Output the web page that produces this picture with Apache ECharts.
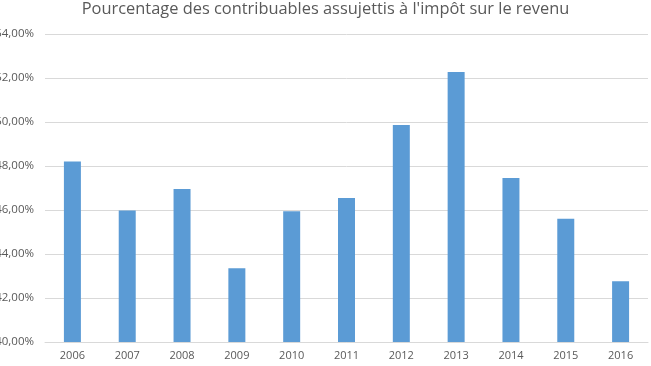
<!DOCTYPE html>
<html><head><meta charset="utf-8">
<script src="https://cdn.jsdelivr.net/npm/echarts@6/dist/echarts.min.js"></script>
<style>html,body{margin:0;padding:0;background:#fff}#c{width:651px;height:366px}</style>
</head><body><div id="c"></div>
<script>
var titleText = "Pourcentage des contribuables assujettis à l'impôt sur le revenu";
var years = ["2006","2007","2008","2009","2010","2011","2012","2013","2014","2015","2016"];
var values = [48.2, 45.98, 46.95, 43.35, 45.94, 46.55, 49.86, 52.27, 47.45, 45.6, 42.76];
var yMin = 40, yMax = 54, yStep = 2;

var chart = echarts.init(document.getElementById('c'), null, {renderer:'canvas'});
chart.setOption({
  animation:false,
  title:{text:titleText,left:'center',top:-4,textStyle:{fontFamily:'Open Sans',fontWeight:'normal',fontSize:16.4,color:'#595959'}},
  grid:{left:45,right:3,top:34,bottom:24,containLabel:false,outerBoundsMode:'none'},
  xAxis:{type:'category',data:years,
    axisLine:{show:true,lineStyle:{color:'#d9d9d9'}},axisTick:{show:false},
    axisLabel:{color:'#595959',fontSize:11,fontFamily:'Open Sans',margin:8}},
  yAxis:{type:'value',min:yMin,max:yMax,interval:yStep,
    axisLine:{show:false},axisTick:{show:false},
    splitLine:{lineStyle:{color:'#d9d9d9'}},
    axisLabel:{color:'#595959',fontSize:11.5,fontFamily:'Open Sans',margin:11,
      formatter:function(v){return v.toFixed(2).replace('.',',')+'%';}}},
  series:[{type:'bar',data:values,barWidth:'31%',itemStyle:{color:'#5B9BD5'}}]
});
</script></body></html>
